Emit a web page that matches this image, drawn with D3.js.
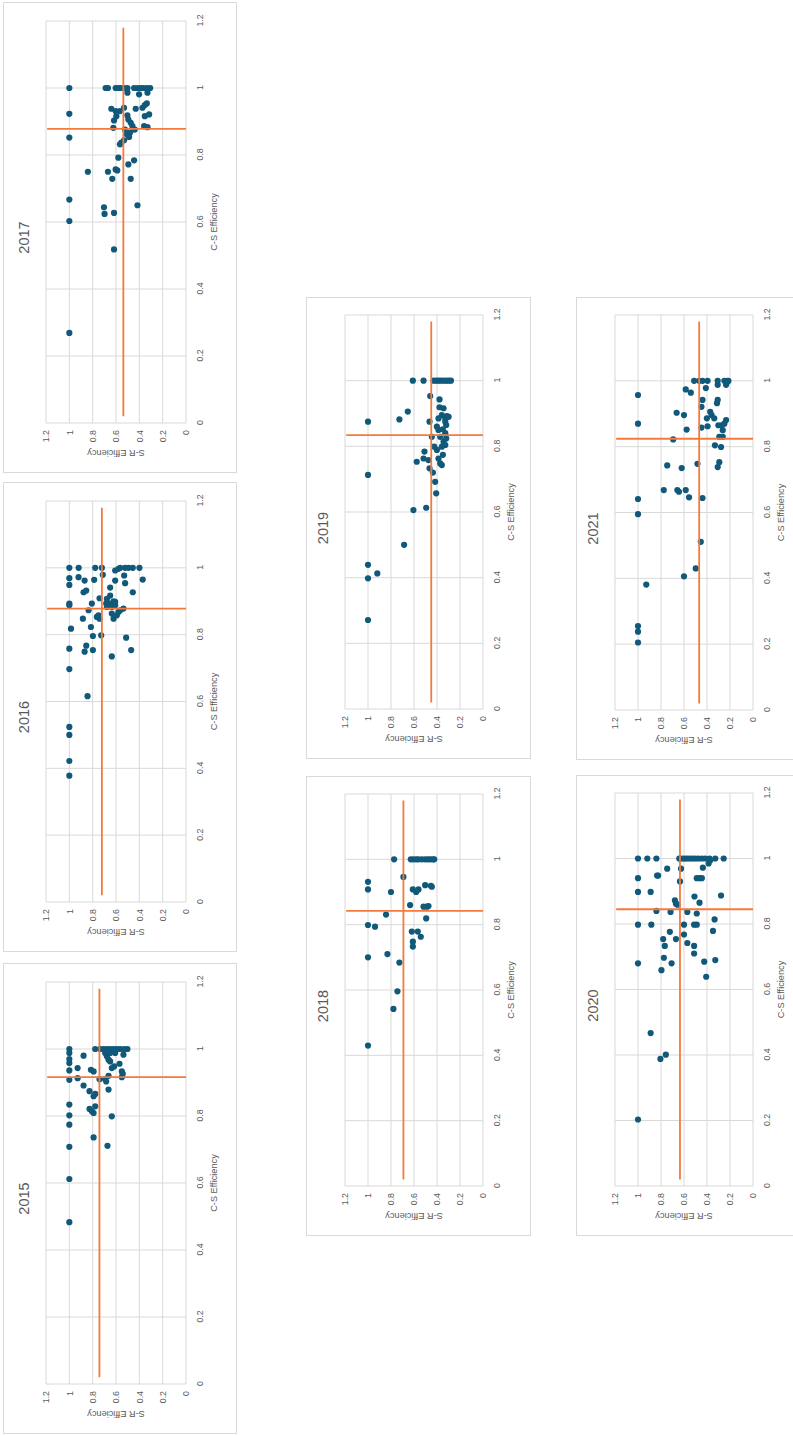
<!DOCTYPE html>
<html>
<head>
<meta charset="utf-8">
<script src="https://cdn.jsdelivr.net/npm/d3@7"></script>
<style>
  body { margin: 0; background: #fff; }
  text { font-family: "Liberation Sans", Arial, sans-serif; fill: #595959; }
</style>
</head>
<body>
<svg id="chart"></svg>
<script>
// each point is [C-S Efficiency, S-R Efficiency]
const years = [2015, 2016, 2017, 2018, 2019, 2020, 2021];
const ticks = [0, 0.2, 0.4, 0.6, 0.8, 1, 1.2];

const pts2015 = [
  [1, 1], [0.988, 1], [0.97, 1], [0.958, 1], [0.936, 1], [0.908, 1], [0.834, 1], [0.802, 1],
  [0.774, 1], [0.708, 1], [0.612, 1], [0.483, 1],
  [0.98, 0.878], [0.943, 0.929], [0.913, 0.929], [0.891, 0.878], [0.938, 0.815], [0.933, 0.792],
  [0.874, 0.827], [0.821, 0.827], [0.814, 0.807], [0.809, 0.792], [0.859, 0.792], [0.866, 0.778],
  [0.829, 0.778], [0.736, 0.792], [1, 0.778], [0.91, 0.741], [0.903, 0.684], [0.91, 0.693],
  [0.92, 0.664], [0.879, 0.664], [0.711, 0.673], [0.799, 0.636], [0.943, 0.636], [0.948, 0.616],
  [0.963, 0.65], [0.968, 0.664], [0.978, 0.678], [0.988, 0.693], [0.988, 0.65], [0.988, 0.607],
  [0.956, 0.57], [0.933, 0.55], [0.926, 0.542], [0.916, 0.55], [0.983, 0.536],
  [1, 0.735], [1, 0.707], [1, 0.678], [1, 0.65], [1, 0.621], [1, 0.593], [1, 0.564], [1, 0.53], [1, 0.502]
];

const pts2016 = [
  [1, 1], [1, 0.92], [0.969, 1], [0.949, 1], [0.893, 1], [0.888, 1], [0.818, 0.986], [0.758, 1],
  [0.697, 1], [0.524, 1], [0.5, 1], [0.422, 1], [0.378, 1], [0.616, 0.844], [0.972, 0.921],
  [0.962, 0.869], [0.927, 0.878], [0.932, 0.855], [0.893, 0.807], [0.873, 0.835], [0.848, 0.884],
  [0.823, 0.815], [0.796, 0.798], [0.767, 0.855], [0.749, 0.869], [0.754, 0.798], [0.964, 0.787],
  [1, 0.778], [1, 0.721], [0.979, 0.713], [0.909, 0.741], [0.798, 0.727], [0.853, 0.764],
  [0.848, 0.741], [0.858, 0.75], [0.735, 0.636], [0.941, 0.65], [0.917, 0.65], [0.907, 0.678],
  [0.893, 0.684], [0.893, 0.656], [0.9, 0.621], [0.898, 0.607], [0.883, 0.636], [0.888, 0.607],
  [0.883, 0.678], [0.863, 0.636], [0.848, 0.621], [0.858, 0.593], [0.868, 0.579], [0.873, 0.564],
  [0.878, 0.536], [0.992, 0.607], [0.962, 0.607], [0.997, 0.579], [1, 0.564], [0.977, 0.53],
  [0.954, 0.522], [1, 0.522], [1, 0.493], [1, 0.456], [1, 0.399], [0.927, 0.456], [0.965, 0.371],
  [0.791, 0.513], [0.754, 0.47]
];

const pts2017 = [
  [1, 1], [0.923, 1], [0.852, 1], [0.667, 1], [0.603, 1], [0.269, 1], [0.75, 0.841], [0.518, 0.617],
  [0.644, 0.703], [0.624, 0.698], [0.627, 0.617], [0.65, 0.416], [0.75, 0.669], [0.729, 0.632],
  [0.757, 0.603], [0.754, 0.589], [0.792, 0.58], [0.772, 0.494], [0.784, 0.445], [0.729, 0.474],
  [0.832, 0.566], [0.837, 0.554], [0.844, 0.531], [0.862, 0.508], [0.854, 0.488], [0.867, 0.479],
  [0.876, 0.523], [0.886, 0.459], [0.876, 0.439], [0.881, 0.623], [0.903, 0.617], [0.916, 0.597],
  [0.931, 0.603], [0.938, 0.64], [0.931, 0.566], [0.941, 0.531], [0.918, 0.502], [0.906, 0.494],
  [0.896, 0.474], [0.938, 0.431], [0.949, 0.353], [0.954, 0.336], [0.941, 0.373], [0.921, 0.316],
  [0.916, 0.353], [0.886, 0.359], [0.883, 0.33], [0.981, 0.402], [0.986, 0.33], [0.986, 0.502],
  [1, 0.689], [1, 0.669], [1, 0.603], [1, 0.58], [1, 0.56], [1, 0.531], [1, 0.502], [1, 0.445],
  [1, 0.416], [1, 0.388], [1, 0.365], [1, 0.336], [1, 0.307]
];

const pts2018 = [
  [0.931, 1], [0.908, 1], [0.799, 1], [0.7, 1], [0.43, 1], [0.794, 0.939], [0.9, 0.8], [0.831, 0.843],
  [0.71, 0.831], [1, 0.773], [0.684, 0.727], [0.596, 0.744], [0.542, 0.779], [0.946, 0.692],
  [0.86, 0.634], [0.779, 0.619], [0.748, 0.61], [0.733, 0.61], [0.779, 0.567], [0.763, 0.541],
  [0.908, 0.61], [0.9, 0.581], [0.908, 0.561], [0.921, 0.503], [0.919, 0.453], [0.916, 0.445],
  [0.855, 0.517], [0.855, 0.488], [0.857, 0.474], [0.819, 0.494],
  [1, 0.628], [1, 0.605], [1, 0.581], [1, 0.561], [1, 0.532], [1, 0.503], [1, 0.48], [1, 0.459],
  [1, 0.436], [1, 0.424]
];

const pts2019 = [
  [0.875, 1], [0.713, 1], [0.439, 1], [0.398, 1], [0.271, 1], [0.413, 0.919], [0.5, 0.686],
  [0.606, 0.605], [0.613, 0.494], [1, 0.61], [1, 0.517], [0.882, 0.727], [0.906, 0.654],
  [0.875, 0.465], [0.953, 0.459], [0.943, 0.378], [0.753, 0.576], [0.763, 0.517], [0.784, 0.509],
  [0.758, 0.474], [0.733, 0.465], [0.72, 0.436], [0.692, 0.416], [0.657, 0.407], [0.799, 0.424],
  [0.789, 0.401], [0.829, 0.445], [0.86, 0.401], [0.85, 0.387], [0.829, 0.372], [0.748, 0.372],
  [0.743, 0.358], [0.774, 0.349], [0.799, 0.358], [0.814, 0.343], [0.84, 0.328], [0.865, 0.32],
  [0.885, 0.328], [0.916, 0.343], [0.919, 0.378], [0.895, 0.358], [0.892, 0.314], [0.89, 0.299],
  [0.875, 0.328], [0.824, 0.32], [0.804, 0.328], [0.763, 0.387], [0.885, 0.387], [0.852, 0.349],
  [1, 0.43], [1, 0.407], [1, 0.387], [1, 0.366], [1, 0.343], [1, 0.32], [1, 0.299], [1, 0.279]
];

const pts2020 = [
  [1, 1], [0.94, 1], [0.898, 1], [0.798, 1], [0.68, 1], [0.203, 1], [1, 0.919], [1, 0.84],
  [0.467, 0.89], [0.388, 0.805], [0.401, 0.758], [0.898, 0.89], [0.798, 0.884], [0.948, 0.834],
  [0.948, 0.825], [0.84, 0.84], [0.969, 0.746], [0.776, 0.723], [0.837, 0.717], [0.754, 0.781],
  [0.733, 0.767], [0.697, 0.775], [0.659, 0.796], [0.68, 0.708], [0.754, 0.67], [0.872, 0.679],
  [0.862, 0.67], [0.859, 0.656], [1, 0.635], [0.969, 0.626], [0.93, 0.635], [0.798, 0.6],
  [0.768, 0.6], [0.837, 0.571], [0.742, 0.571], [0.733, 0.512], [0.71, 0.512], [0.798, 0.512],
  [0.798, 0.489], [0.832, 0.489], [0.884, 0.509], [0.865, 0.465], [0.94, 0.489], [0.94, 0.465],
  [0.94, 0.445], [0.972, 0.436], [0.685, 0.424], [0.639, 0.407], [0.814, 0.334], [0.779, 0.348],
  [0.69, 0.328], [0.887, 0.278], [0.985, 0.386], [0.995, 0.372],
  [1, 0.641], [1, 0.612], [1, 0.591], [1, 0.571], [1, 0.547], [1, 0.524], [1, 0.5], [1, 0.474],
  [1, 0.445], [1, 0.416], [1, 0.378], [1, 0.328], [1, 0.255]
];

const pts2021 = [
  [0.957, 1], [0.87, 1], [0.641, 1], [0.595, 1], [0.255, 1], [0.238, 1], [0.205, 1], [0.381, 0.928],
  [0.406, 0.6], [0.43, 0.498], [0.511, 0.454], [0.644, 0.439], [0.646, 0.556], [0.668, 0.585],
  [0.668, 0.658], [0.663, 0.644], [0.668, 0.776], [0.743, 0.746], [0.735, 0.62], [0.748, 0.483],
  [0.822, 0.694], [0.903, 0.664], [0.896, 0.6], [0.852, 0.577], [0.974, 0.585], [0.964, 0.541],
  [0.942, 0.439], [0.921, 0.448], [0.858, 0.448], [0.862, 0.395], [0.886, 0.401], [0.906, 0.372],
  [0.896, 0.36], [0.886, 0.337], [0.942, 0.307], [0.932, 0.313], [0.978, 0.41], [0.988, 0.307],
  [0.804, 0.331], [0.83, 0.293], [0.799, 0.278], [0.738, 0.307], [0.753, 0.293], [0.83, 0.263],
  [0.85, 0.263], [0.865, 0.272], [0.87, 0.249], [0.881, 0.234], [0.865, 0.301], [0.988, 0.234],
  [0.998, 0.219],
  [1, 0.512], [1, 0.468], [1, 0.439], [1, 0.395], [1, 0.307], [1, 0.249], [1, 0.225], [1, 0.214]
];

const points = [pts2015, pts2016, pts2017, pts2018, pts2019, pts2020, pts2021];
// mean lines drawn in orange
const meanCS = [0.916, 0.878, 0.878, 0.842, 0.834, 0.845, 0.824];
const meanSR = [0.742, 0.721, 0.537, 0.692, 0.45, 0.635, 0.468];
const srLineSpan = [0.02, 1.18]; // C-S range of the S-R mean line
const csLineSpan = [0, 1.19];    // S-R range of the C-S mean line

// panel boxes on the page (panels are drawn rotated 90deg counter-clockwise)
const leftM = {top: 43, right: 19, bottom: 51, left: 50},
      rightM = {top: 39, right: 18, bottom: 48, left: 50};
const layout = {
  2017: {x: 3, y: 2, w: 234, h: 471, m: leftM},
  2016: {x: 3, y: 482, w: 234, h: 470, m: leftM},
  2015: {x: 3, y: 963, w: 234, h: 471, m: leftM},
  2019: {x: 306, y: 297, w: 225, h: 462, m: rightM},
  2018: {x: 306, y: 776, w: 225, h: 460, m: rightM},
  2021: {x: 576, y: 297, w: 225, h: 463, m: rightM},
  2020: {x: 576, y: 775, w: 225, h: 461, m: rightM}
};

const svg = d3.select("#chart").attr("width", 793).attr("height", 1436);
const fmt = d => +d.toFixed(1);

years.forEach((year, i) => {
  const L = layout[year], m = L.m;
  const W = L.h, H = L.w; // unrotated size
  const pw = W - m.left - m.right, ph = H - m.top - m.bottom;

  const panel = svg.append("g")
      .attr("transform", `translate(${L.x},${L.y + L.h}) rotate(-90)`);

  panel.append("rect")
      .attr("x", 0.5).attr("y", 0.5)
      .attr("width", W - 1).attr("height", H - 1)
      .attr("fill", "#fff").attr("stroke", "#d9d9d9");

  panel.append("text")
      .attr("x", W / 2).attr("y", m.top - 17)
      .attr("text-anchor", "middle")
      .attr("font-size", 14.5)
      .text(year);

  const g = panel.append("g").attr("transform", `translate(${m.left},${m.top})`);

  const x = d3.scaleLinear().domain([0, 1.2]).range([0, pw]);
  const y = d3.scaleLinear().domain([0, 1.2]).range([ph, 0]);

  // gridlines
  g.append("g").selectAll("line.v").data(ticks).join("line")
      .attr("x1", d => x(d)).attr("x2", d => x(d))
      .attr("y1", y(0)).attr("y2", y(1.2))
      .attr("stroke", "#d9d9d9");
  g.append("g").selectAll("line.h").data(ticks).join("line")
      .attr("x1", x(0)).attr("x2", x(1.2))
      .attr("y1", d => y(d)).attr("y2", d => y(d))
      .attr("stroke", "#d9d9d9");

  // axes
  const xAxis = g.append("g")
      .attr("transform", `translate(0,${ph})`)
      .call(d3.axisBottom(x).tickValues(ticks).tickFormat(fmt).tickSize(0).tickPadding(11));
  const yAxis = g.append("g")
      .call(d3.axisLeft(y).tickValues(ticks).tickFormat(fmt).tickSize(0).tickPadding(7));
  [xAxis, yAxis].forEach(a => {
    a.select(".domain").remove();
    a.selectAll("text").attr("fill", "#595959").attr("font-size", 8.8)
        .attr("font-family", "'Liberation Sans', Arial, sans-serif");
  });

  g.append("text")
      .attr("x", pw / 2).attr("y", ph + 28).attr("dy", "0.35em")
      .attr("text-anchor", "middle").attr("font-size", 9.2)
      .text("C-S Efficiency");
  g.append("text")
      .attr("transform", `translate(-30,${ph / 2}) rotate(-90)`)
      .attr("dy", "0.35em")
      .attr("text-anchor", "middle").attr("font-size", 9.2)
      .text("S-R Efficiency");

  // points
  g.append("g").selectAll("circle").data(points[i]).join("circle")
      .attr("cx", d => x(d[0]))
      .attr("cy", d => y(d[1]))
      .attr("r", 3.1)
      .attr("fill", "#10597a");

  // mean lines
  const orange = "#f47a3c";
  g.append("line")
      .attr("x1", x(srLineSpan[0])).attr("x2", x(srLineSpan[1]))
      .attr("y1", y(meanSR[i])).attr("y2", y(meanSR[i]))
      .attr("stroke", orange).attr("stroke-width", 1.8);
  g.append("line")
      .attr("x1", x(meanCS[i])).attr("x2", x(meanCS[i]))
      .attr("y1", y(csLineSpan[0])).attr("y2", y(csLineSpan[1]))
      .attr("stroke", orange).attr("stroke-width", 1.8);
});
</script>
</body>
</html>
